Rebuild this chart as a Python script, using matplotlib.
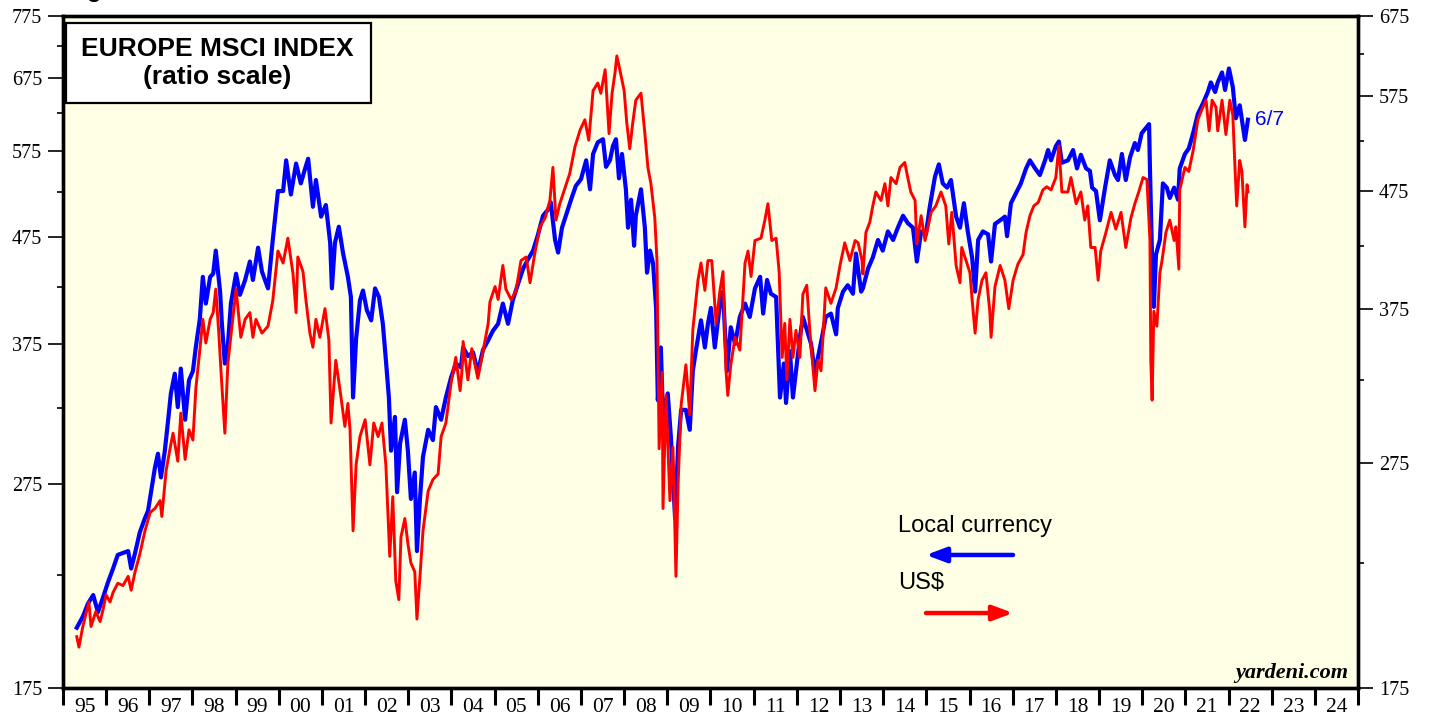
import matplotlib
matplotlib.use("Agg")
import matplotlib.pyplot as plt
from matplotlib.ticker import FixedLocator, NullFormatter, FixedFormatter
from matplotlib.patches import Rectangle

# Europe MSCI index, local currency (left axis)
local_dates = [
    1995.32, 1995.46, 1995.58, 1995.70, 1995.81, 1995.93, 1996.04, 1996.16, 1996.27, 1996.39,
    1996.51, 1996.58, 1996.67, 1996.78, 1996.90, 1996.97, 1997.04, 1997.13, 1997.20, 1997.27,
    1997.36, 1997.43, 1997.50, 1997.59, 1997.66, 1997.73, 1997.83, 1997.92, 1998.01, 1998.08,
    1998.17, 1998.24, 1998.31, 1998.41, 1998.48, 1998.54, 1998.64, 1998.68, 1998.75, 1998.82,
    1998.89, 1999.01, 1999.10, 1999.22, 1999.33, 1999.40, 1999.52, 1999.61, 1999.75, 1999.86,
    1999.98, 2000.10, 2000.17, 2000.28, 2000.40, 2000.51, 2000.61, 2000.68, 2000.79, 2000.86,
    2000.98, 2001.09, 2001.19, 2001.23, 2001.30, 2001.39, 2001.49, 2001.60, 2001.67, 2001.72,
    2001.79, 2001.88, 2001.95, 2002.04, 2002.14, 2002.23, 2002.32, 2002.41, 2002.48, 2002.55,
    2002.60, 2002.69, 2002.74, 2002.81, 2002.92, 2002.99, 2003.06, 2003.15, 2003.20, 2003.27,
    2003.34, 2003.46, 2003.57, 2003.64, 2003.76, 2003.87, 2003.99, 2004.10, 2004.22, 2004.27,
    2004.38, 2004.50, 2004.61, 2004.73, 2004.85, 2004.96, 2005.08, 2005.19, 2005.31, 2005.42,
    2005.54, 2005.66, 2005.77, 2005.89, 2006.00, 2006.12, 2006.24, 2006.30, 2006.40, 2006.47,
    2006.56, 2006.65, 2006.77, 2006.88, 2007.00, 2007.12, 2007.21, 2007.28, 2007.39, 2007.51,
    2007.58, 2007.67, 2007.74, 2007.81, 2007.88, 2007.95, 2008.04, 2008.09, 2008.16, 2008.23,
    2008.27, 2008.39, 2008.48, 2008.53, 2008.60, 2008.67, 2008.74, 2008.78, 2008.85, 2008.90,
    2009.01, 2009.08, 2009.18, 2009.25, 2009.32, 2009.43, 2009.52, 2009.59, 2009.66, 2009.78,
    2009.87, 2009.94, 2010.01, 2010.10, 2010.22, 2010.29, 2010.38, 2010.47, 2010.57, 2010.68,
    2010.80, 2010.91, 2011.03, 2011.15, 2011.22, 2011.31, 2011.40, 2011.52, 2011.61, 2011.70,
    2011.75, 2011.84, 2011.91, 2011.98, 2012.07, 2012.14, 2012.23, 2012.33, 2012.42, 2012.49,
    2012.58, 2012.67, 2012.79, 2012.91, 2012.95, 2013.07, 2013.18, 2013.30, 2013.37, 2013.49,
    2013.53, 2013.65, 2013.76, 2013.88, 2013.99, 2014.11, 2014.23, 2014.34, 2014.46, 2014.57,
    2014.69, 2014.78, 2014.88, 2014.99, 2015.08, 2015.20, 2015.29, 2015.38, 2015.48, 2015.57,
    2015.69, 2015.78, 2015.87, 2015.96, 2016.06, 2016.13, 2016.20, 2016.31, 2016.43, 2016.50,
    2016.59, 2016.71, 2016.82, 2016.87, 2016.96, 2017.08, 2017.19, 2017.31, 2017.40, 2017.52,
    2017.63, 2017.75, 2017.82, 2017.89, 2018.00, 2018.07, 2018.14, 2018.28, 2018.40, 2018.49,
    2018.58, 2018.70, 2018.79, 2018.84, 2018.93, 2019.02, 2019.14, 2019.25, 2019.37, 2019.44,
    2019.53, 2019.62, 2019.72, 2019.83, 2019.90, 2019.99, 2020.09, 2020.16, 2020.18, 2020.23,
    2020.27, 2020.32, 2020.41, 2020.48, 2020.57, 2020.64, 2020.74, 2020.83, 2020.87, 2020.99,
    2021.08, 2021.18, 2021.29, 2021.41, 2021.52, 2021.59, 2021.69, 2021.75, 2021.85, 2021.92,
    2022.01, 2022.10, 2022.17, 2022.26, 2022.38, 2022.45,
]
local_values = [
    200, 205, 211, 215, 207, 214, 221, 228, 235, 236,
    237, 228, 236, 247, 255, 259, 270, 285, 294, 279,
    296, 315, 336, 351, 326, 355, 317, 346, 353, 373,
    396, 435, 410, 435, 438, 461, 421, 393, 359, 374,
    410, 438, 418, 432, 450, 432, 464, 440, 424, 472,
    526, 526, 563, 522, 559, 535, 553, 565, 508, 539,
    497, 510, 469, 424, 469, 486, 458, 435, 416, 333,
    379, 413, 422, 404, 395, 424, 416, 392, 362, 333,
    296, 319, 270, 301, 317, 296, 266, 282, 237, 266,
    292, 310, 303, 326, 317, 333, 348, 359, 356, 372,
    365, 368, 352, 370, 378, 386, 392, 410, 392, 413,
    428, 443, 452, 461, 477, 498, 505, 513, 472, 459,
    485, 498, 516, 532, 540, 563, 528, 571, 586, 590,
    555, 563, 581, 590, 541, 571, 528, 485, 516, 466,
    498, 528, 485, 439, 461, 448, 406, 331, 372, 319,
    336, 306, 255, 299, 324, 324, 310, 353, 369, 395,
    372, 392, 406, 372, 410, 421, 353, 389, 375, 398,
    410, 398, 424, 435, 401, 432, 419, 416, 333, 359,
    329, 369, 333, 353, 380, 398, 387, 375, 351, 364,
    380, 398, 401, 383, 406, 421, 427, 419, 458, 421,
    424, 443, 454, 472, 461, 481, 472, 485, 498, 490,
    485, 450, 481, 478, 508, 543, 558, 535, 530, 539,
    497, 485, 512, 481, 454, 421, 472, 481, 478, 450,
    489, 493, 497, 476, 512, 524, 535, 553, 563, 553,
    545, 563, 576, 563, 581, 587, 560, 563, 576, 553,
    570, 553, 550, 530, 526, 493, 530, 563, 545, 539,
    571, 539, 567, 585, 576, 598, 605, 610, 553, 452,
    407, 457, 472, 535, 530, 518, 530, 516, 553, 571,
    578, 598, 624, 639, 655, 669, 655, 669, 684, 658,
    690, 662, 618, 636, 589, 616,
]

# Europe MSCI index in US$ (right axis)
usd_dates = [
    1995.32, 1995.37, 1995.46, 1995.60, 1995.65, 1995.76, 1995.86, 1995.93, 1996.00, 1996.09,
    1996.16, 1996.27, 1996.39, 1996.51, 1996.58, 1996.67, 1996.78, 1996.90, 1997.02, 1997.13,
    1997.25, 1997.29, 1997.39, 1997.48, 1997.55, 1997.66, 1997.73, 1997.83, 1997.92, 1998.01,
    1998.08, 1998.17, 1998.24, 1998.31, 1998.41, 1998.48, 1998.54, 1998.61, 1998.66, 1998.75,
    1998.82, 1998.89, 1999.01, 1999.12, 1999.22, 1999.33, 1999.40, 1999.47, 1999.61, 1999.75,
    1999.86, 1999.98, 2000.10, 2000.21, 2000.33, 2000.40, 2000.44, 2000.56, 2000.63, 2000.72,
    2000.79, 2000.86, 2000.95, 2001.07, 2001.16, 2001.21, 2001.32, 2001.44, 2001.53, 2001.60,
    2001.65, 2001.72, 2001.79, 2001.88, 2002.00, 2002.11, 2002.20, 2002.30, 2002.39, 2002.48,
    2002.57, 2002.64, 2002.71, 2002.78, 2002.83, 2002.92, 2002.99, 2003.06, 2003.15, 2003.20,
    2003.27, 2003.34, 2003.46, 2003.57, 2003.69, 2003.76, 2003.87, 2003.99, 2004.10, 2004.20,
    2004.24, 2004.27, 2004.38, 2004.47, 2004.61, 2004.73, 2004.85, 2004.89, 2005.01, 2005.08,
    2005.19, 2005.26, 2005.38, 2005.49, 2005.61, 2005.73, 2005.82, 2005.93, 2006.05, 2006.17,
    2006.28, 2006.35, 2006.42, 2006.51, 2006.63, 2006.74, 2006.86, 2006.98, 2007.09, 2007.18,
    2007.28, 2007.39, 2007.46, 2007.56, 2007.65, 2007.72, 2007.79, 2007.83, 2007.90, 2008.00,
    2008.06, 2008.13, 2008.20, 2008.27, 2008.39, 2008.48, 2008.55, 2008.62, 2008.71, 2008.76,
    2008.81, 2008.88, 2008.90, 2008.97, 2009.06, 2009.13, 2009.20, 2009.25, 2009.32, 2009.43,
    2009.52, 2009.59, 2009.71, 2009.78, 2009.87, 2009.94, 2010.03, 2010.13, 2010.22, 2010.29,
    2010.36, 2010.40, 2010.47, 2010.57, 2010.68, 2010.80, 2010.87, 2010.94, 2011.03, 2011.17,
    2011.26, 2011.33, 2011.42, 2011.52, 2011.59, 2011.66, 2011.72, 2011.77, 2011.84, 2011.91,
    2011.98, 2012.07, 2012.14, 2012.23, 2012.30, 2012.42, 2012.49, 2012.56, 2012.67, 2012.79,
    2012.91, 2013.00, 2013.11, 2013.23, 2013.35, 2013.42, 2013.51, 2013.53, 2013.60, 2013.69,
    2013.76, 2013.83, 2013.95, 2014.04, 2014.11, 2014.18, 2014.30, 2014.39, 2014.50, 2014.57,
    2014.64, 2014.74, 2014.78, 2014.88, 2014.97, 2015.04, 2015.11, 2015.22, 2015.34, 2015.45,
    2015.52, 2015.59, 2015.69, 2015.78, 2015.82, 2015.92, 2016.01, 2016.06, 2016.13, 2016.20,
    2016.29, 2016.38, 2016.47, 2016.50, 2016.59, 2016.71, 2016.82, 2016.91, 2017.01, 2017.12,
    2017.24, 2017.31, 2017.40, 2017.49, 2017.59, 2017.70, 2017.79, 2017.89, 2018.00, 2018.07,
    2018.14, 2018.28, 2018.35, 2018.47, 2018.58, 2018.67, 2018.74, 2018.81, 2018.91, 2018.98,
    2019.04, 2019.16, 2019.28, 2019.39, 2019.51, 2019.62, 2019.74, 2019.83, 2019.92, 2020.02,
    2020.11, 2020.18, 2020.20, 2020.23, 2020.27, 2020.34, 2020.41, 2020.46, 2020.55, 2020.64,
    2020.74, 2020.78, 2020.85, 2020.87, 2020.99, 2021.08, 2021.18, 2021.29, 2021.38, 2021.48,
    2021.55, 2021.62, 2021.71, 2021.75, 2021.85, 2021.94, 2022.03, 2022.10, 2022.15, 2022.19,
    2022.26, 2022.31, 2022.38, 2022.43, 2022.45,
]
usd_values = [
    194, 190, 198, 208, 198, 204, 200, 205, 211, 208,
    212, 216, 215, 219, 213, 221, 229, 240, 249, 251,
    255, 247, 271, 283, 292, 276, 304, 277, 294, 288,
    320, 345, 367, 350, 367, 372, 390, 357, 331, 292,
    336, 355, 390, 354, 367, 372, 354, 367, 357, 362,
    381, 421, 411, 432, 402, 372, 416, 404, 381, 357,
    347, 367, 354, 375, 352, 298, 338, 314, 296, 310,
    294, 240, 274, 290, 300, 274, 298, 290, 298, 274,
    228, 257, 217, 209, 237, 246, 234, 225, 221, 201,
    219, 240, 260, 266, 269, 290, 298, 323, 340, 318,
    330, 351, 325, 346, 326, 344, 364, 380, 392, 382,
    409, 390, 382, 388, 413, 416, 395, 419, 442, 450,
    466, 498, 448, 463, 478, 492, 519, 537, 548, 526,
    581, 590, 578, 606, 533, 578, 603, 623, 606, 581,
    545, 517, 545, 570, 578, 533, 498, 482, 450, 413,
    283, 330, 251, 315, 255, 284, 219, 264, 309, 335,
    303, 359, 397, 411, 389, 413, 413, 364, 389, 404,
    331, 315, 335, 354, 345, 411, 421, 400, 430, 432,
    448, 463, 430, 432, 404, 340, 364, 325, 367, 340,
    359, 340, 386, 393, 359, 318, 338, 331, 391, 379,
    391, 409, 428, 413, 430, 428, 413, 402, 437, 446,
    461, 474, 466, 482, 461, 488, 482, 498, 503, 488,
    474, 466, 427, 452, 430, 442, 455, 461, 474, 461,
    427, 455, 409, 395, 424, 413, 403, 382, 357, 382,
    397, 403, 373, 354, 392, 409, 397, 375, 397, 410,
    418, 437, 452, 461, 464, 476, 479, 476, 488, 520,
    474, 474, 488, 463, 474, 448, 461, 424, 424, 397,
    421, 437, 455, 440, 455, 424, 450, 463, 474, 488,
    486, 430, 338, 312, 373, 362, 403, 413, 437, 448,
    430, 442, 406, 476, 498, 494, 515, 548, 559, 570,
    536, 570, 562, 536, 570, 532, 570, 553, 498, 461,
    505, 494, 442, 481, 474,
]

year_labels = ['95', '96', '97', '98', '99', '00', '01', '02', '03', '04',
               '05', '06', '07', '08', '09', '10', '11', '12', '13', '14',
               '15', '16', '17', '18', '19', '20', '21', '22', '23', '24']
left_major = [175, 275, 375, 475, 575, 675, 775]
left_minor = [225, 325, 425, 525, 625, 725]
right_major = [175, 275, 375, 475, 575, 675]
right_minor = [225, 325, 425, 525, 625]

SERIF = ['Liberation Serif', 'DejaVu Serif']
SANS = ['Liberation Sans', 'DejaVu Sans']
BLUE = '#0000ff'
RED = '#ff0000'

fig = plt.figure(figsize=(14.31, 7.19), dpi=100)
ax = fig.add_axes([0.0440, 0.0431, 0.9050, 0.9346])
ax.set_facecolor('#ffffe6')

ax.set_yscale('log')
ax.set_ylim(175, 775)
ax.set_xlim(1995, 2025)
ax.plot(local_dates, local_values, color=BLUE, lw=3.0, solid_joinstyle='round')

ax2 = ax.twinx()
ax2.set_yscale('log')
ax2.set_ylim(175, 675)
ax2.plot(usd_dates, usd_values, color=RED, lw=2.1, solid_joinstyle='round')

# y axes
for a, maj, mino in ((ax, left_major, left_minor), (ax2, right_major, right_minor)):
    a.yaxis.set_major_locator(FixedLocator(maj))
    a.yaxis.set_major_formatter(FixedFormatter([str(v) for v in maj]))
    a.yaxis.set_minor_locator(FixedLocator(mino))
    a.yaxis.set_minor_formatter(NullFormatter())
    a.tick_params(axis='y', which='major', length=11, width=1.2, direction='out', pad=4)
    a.tick_params(axis='y', which='minor', length=4.5, width=1.2, direction='out')
    for lab in a.get_yticklabels():
        lab.set_fontfamily(SERIF)
        lab.set_fontsize(14.5)

# x axis: ticks at year boundaries, labels in between
years = list(range(1995, 2026))
ax.xaxis.set_major_locator(FixedLocator(years))
ax.xaxis.set_major_formatter(NullFormatter())
ax.xaxis.set_minor_locator(FixedLocator([y + 0.5 for y in years[:-1]]))
ax.xaxis.set_minor_formatter(FixedFormatter(year_labels))
ax.tick_params(axis='x', which='major', length=12, width=2.2, direction='out')
ax.tick_params(axis='x', which='minor', length=0, pad=7)
for lab in ax.get_xticklabels(minor=True):
    lab.set_fontfamily(SERIF)
    lab.set_fontsize(15.5)
ax2.tick_params(axis='x', which='both', length=0)

for a in (ax, ax2):
    for s in a.spines.values():
        s.set_linewidth(2.4)
        s.set_color('black')

# title box
ax.add_patch(Rectangle((0.0023, 0.8705), 0.2355, 0.1191, transform=ax.transAxes,
                       facecolor='white', edgecolor='black', lw=1.6, zorder=5))
ax.text(0.1189, 0.951, 'EUROPE MSCI INDEX', transform=ax.transAxes, ha='center', va='center',
        fontsize=19, fontweight='bold', family=SANS, zorder=6)
ax.text(0.1189, 0.909, '(ratio scale)', transform=ax.transAxes, ha='center', va='center',
        fontsize=19, fontweight='bold', family=SANS, zorder=6)

# legend with arrows
ax.text(0.6448, 0.241, 'Local currency', transform=ax.transAxes, ha='left', va='center',
        fontsize=17, family=SANS)
ax.annotate('', xy=(0.6664, 0.198), xytext=(0.7336, 0.198), xycoords='axes fraction',
            arrowprops=dict(arrowstyle='-|>,head_length=1.2,head_width=0.45', color=BLUE,
                            lw=3.2, shrinkA=0, shrinkB=0))
ax.text(0.6448, 0.156, 'US$', transform=ax.transAxes, ha='left', va='center',
        fontsize=17, family=SANS)
ax.annotate('', xy=(0.7336, 0.1116), xytext=(0.6664, 0.1116), xycoords='axes fraction',
            arrowprops=dict(arrowstyle='-|>,head_length=1.2,head_width=0.45', color=RED,
                            lw=3.2, shrinkA=0, shrinkB=0))

# date label at the end of the blue line
ax.annotate('6/7', xy=(local_dates[-1], local_values[-1]), xytext=(5, 0),
            textcoords='offset points', color=BLUE, fontsize=15, family=SANS,
            ha='left', va='center')

ax.text(0.9923, 0.022, 'yardeni.com', transform=ax.transAxes, ha='right', va='center',
        fontsize=16, fontweight='bold', fontstyle='italic', family=SERIF)

# clipped figure caption at the very top
fig.text(0.046, 1.004, 'Figure 3.', fontsize=17, fontweight='bold', family=SANS, va='baseline')

fig.savefig('out.png', dpi=100, facecolor='white')
